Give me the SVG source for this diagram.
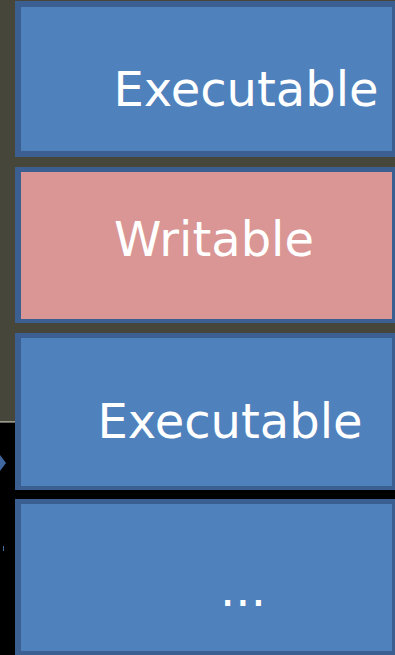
<svg xmlns="http://www.w3.org/2000/svg" width="395" height="655" viewBox="0 0 395 655">
<style>
.bd{fill:#3b5f90}
.blue{fill:#4f81bd}
.pink{fill:#d99694}
.t{font-family:"DejaVu Sans",sans-serif;font-size:48px;fill:#ffffff;text-anchor:middle}
</style>
<rect x="0" y="0" width="395" height="421" fill="#46463a"/>
<rect x="0" y="421" width="395" height="1.5" fill="#9a9886"/>
<rect x="0" y="422.5" width="395" height="232.5" fill="#000000"/>
<g id="box1">
<rect class="bd" x="15" y="1" width="385" height="156"/>
<rect class="blue" x="21" y="7" width="371" height="144"/>
<text class="t" x="246" y="106">Executable</text>
</g>
<g id="box2">
<rect class="bd" x="15" y="167" width="385" height="156"/>
<rect class="pink" x="21" y="172" width="371" height="147"/>
<text class="t" x="214" y="256">Writable</text>
</g>
<g id="box3">
<rect class="bd" x="15" y="333" width="385" height="157"/>
<rect class="blue" x="21" y="338" width="371" height="148"/>
<text class="t" x="230" y="438">Executable</text>
</g>
<g id="box4">
<rect class="bd" x="15" y="499" width="385" height="160"/>
<rect class="blue" x="21" y="504" width="371" height="147"/>
<text class="t" x="243" y="606">...</text>
</g>
<g id="connectors">
<polygon points="0,455 6,463 0,471" fill="#3f68a0"/>
<rect x="3" y="546" width="1" height="5" fill="#4a6f9f"/>
</g>
</svg>
